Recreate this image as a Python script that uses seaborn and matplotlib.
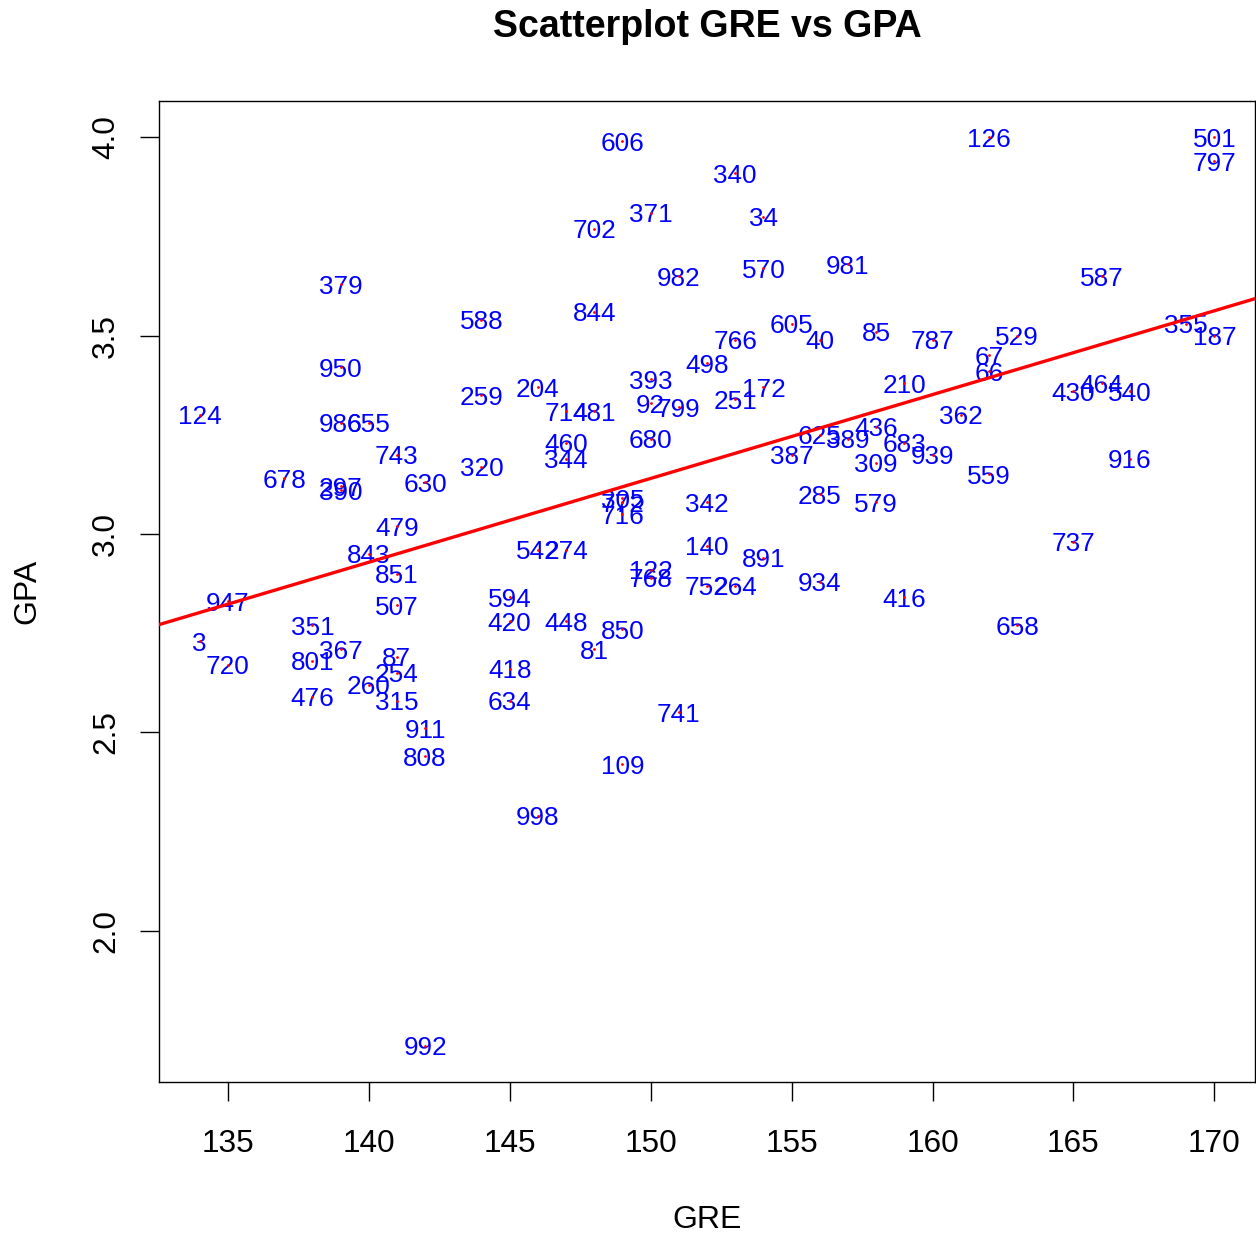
import numpy as np
import pandas as pd
import matplotlib
matplotlib.use("Agg")
import matplotlib.pyplot as plt
import seaborn as sns

ids = [606, 126, 501, 797, 340, 371, 34, 702, 982, 570, 981, 587, 379, 588, 844,
       605, 766, 40, 85, 787, 529, 355, 187, 950, 498, 67, 66, 393, 204, 259,
       172, 210, 464, 430, 540, 124, 986, 655, 714, 481, 92, 799, 251, 362, 625,
       436, 389, 683, 460, 680, 743, 387, 939, 344, 320, 309, 916, 678, 297, 390,
       630, 559, 305, 772, 716, 342, 285, 579, 479, 737, 542, 274, 140, 843, 891,
       122, 768, 851, 752, 264, 934, 947, 594, 416, 507, 351, 420, 448, 658, 850,
       3, 367, 81, 720, 801, 87, 254, 418, 260, 476, 315, 634, 741, 911, 808,
       109, 998, 992]
gre = [149, 162, 170, 170, 153, 150, 154, 148, 151, 154, 157, 166, 139, 144, 148,
       155, 153, 156, 158, 160, 163, 169, 170, 139, 152, 162, 162, 150, 146, 144,
       154, 159, 166, 165, 167, 134, 139, 140, 147, 148, 150, 151, 153, 161, 156,
       158, 157, 159, 147, 150, 141, 155, 160, 147, 144, 158, 167, 137, 139, 139,
       142, 162, 149, 149, 149, 152, 156, 158, 141, 165, 146, 147, 152, 140, 154,
       150, 150, 141, 152, 153, 156, 135, 145, 159, 141, 138, 145, 147, 163, 149,
       134, 139, 148, 135, 138, 141, 141, 145, 140, 138, 141, 145, 151, 142, 142,
       149, 146, 142]
gpa = [3.99, 4.00, 4.00, 3.94, 3.91, 3.81, 3.80, 3.77, 3.65, 3.67, 3.68, 3.65, 3.63, 3.54, 3.56,
       3.53, 3.49, 3.49, 3.51, 3.49, 3.50, 3.53, 3.50, 3.42, 3.43, 3.45, 3.41, 3.39, 3.37, 3.35,
       3.37, 3.38, 3.38, 3.36, 3.36, 3.30, 3.28, 3.28, 3.31, 3.31, 3.33, 3.32, 3.34, 3.30, 3.25,
       3.27, 3.24, 3.23, 3.23, 3.24, 3.20, 3.20, 3.20, 3.19, 3.17, 3.18, 3.19, 3.14, 3.12, 3.11,
       3.13, 3.15, 3.09, 3.08, 3.05, 3.08, 3.10, 3.08, 3.02, 2.98, 2.96, 2.96, 2.97, 2.95, 2.94,
       2.91, 2.89, 2.90, 2.87, 2.87, 2.88, 2.83, 2.84, 2.84, 2.82, 2.77, 2.78, 2.78, 2.77, 2.76,
       2.73, 2.71, 2.71, 2.67, 2.68, 2.69, 2.65, 2.66, 2.62, 2.59, 2.58, 2.58, 2.55, 2.51, 2.44,
       2.42, 2.29, 1.71]

x_ticks = [135, 140, 145, 150, 155, 160, 165, 170]
y_ticks = [2.0, 2.5, 3.0, 3.5, 4.0]
y_tick_labels = ["2.0", "2.5", "3.0", "3.5", "4.0"]

df = pd.DataFrame({"id": ids, "GRE": gre, "GPA": gpa})

sns.set_style("white")
plt.rcParams["font.family"] = ["Liberation Sans", "DejaVu Sans"]
plt.rcParams["text.color"] = "black"
plt.rcParams["axes.labelcolor"] = "black"

W, H = 1256, 1236
fig = plt.figure(figsize=(W / 100, H / 100), dpi=100)
ax = fig.add_axes([159 / W, 1 - 1082 / H, (1255 - 159) / W, (1082 - 101) / H])

# R-style 4% padding
xr = df["GRE"].max() - df["GRE"].min()
yr = df["GPA"].max() - df["GPA"].min()
xlim = (df["GRE"].min() - 0.04 * xr, df["GRE"].max() + 0.04 * xr)
ylim = (df["GPA"].min() - 0.04 * yr, df["GPA"].max() + 0.04 * yr)
ax.set_xlim(*xlim)
ax.set_ylim(*ylim)

sns.scatterplot(data=df, x="GRE", y="GPA", ax=ax, color="red", s=4,
                linewidth=0, zorder=3)
for _, r in df.iterrows():
    ax.text(r["GRE"], r["GPA"], str(int(r["id"])), color="#0000FF",
            fontsize=18.8, ha="center", va="center_baseline", zorder=2)

sns.regplot(data=df, x="GRE", y="GPA", ax=ax, scatter=False, ci=None,
            truncate=False, color="red", line_kws={"linewidth": 2.4, "zorder": 4})

ax.set_xlim(*xlim)
ax.set_ylim(*ylim)

ax.set_xticks(x_ticks)
ax.set_yticks(y_ticks)
ax.set_yticklabels(y_tick_labels, rotation=90, va="center")
ax.tick_params(axis="both", direction="out", length=13.7, width=1.0,
               labelsize=22.8, colors="black", bottom=True, left=True)
ax.tick_params(axis="x", pad=20.5)
ax.tick_params(axis="y", pad=13.5)
for s in ax.spines.values():
    s.set_visible(True)
    s.set_color("black")
    s.set_linewidth(1.0)

ax.set_xlabel("GRE", fontsize=23, labelpad=33)
ax.set_ylabel("GPA", fontsize=23, labelpad=35)
fig.text(707 / W, 1 - 37 / H, "Scatterplot GRE vs GPA", ha="center",
         va="baseline", fontsize=27, fontweight="bold", color="black")

fig.savefig("out.png", dpi=100, facecolor="white")
